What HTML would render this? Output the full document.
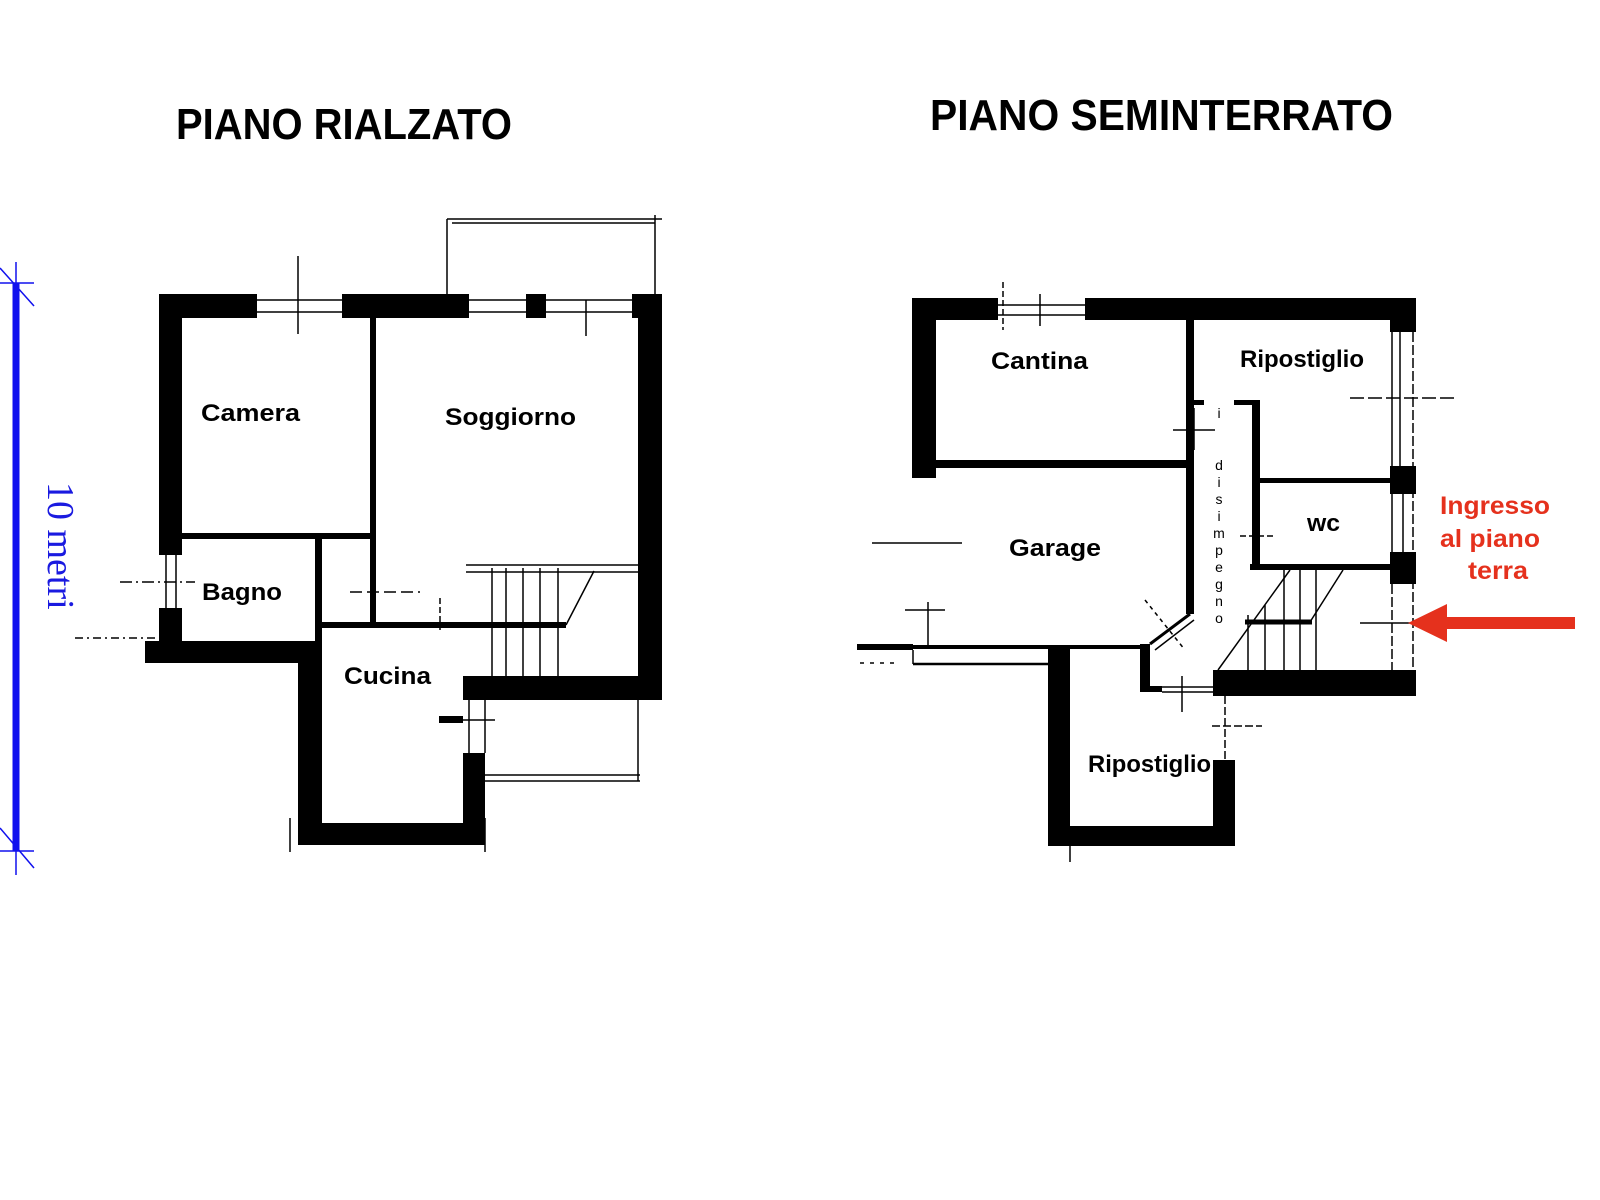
<!DOCTYPE html>
<html><head><meta charset="utf-8"><style>
html,body{margin:0;padding:0;background:#fff;}
svg{display:block}
.t{font-family:"Liberation Sans",sans-serif;font-weight:bold;fill:#000}
.r{font-family:"Liberation Sans",sans-serif;font-weight:bold;fill:#e5311d}
</style></head><body>
<svg width="1600" height="1200" viewBox="0 0 1600 1200" xmlns="http://www.w3.org/2000/svg">
<rect width="1600" height="1200" fill="#fff"/>
<!-- titles -->
<text class="t" x="176" y="139" font-size="44" textLength="336" lengthAdjust="spacingAndGlyphs">PIANO RIALZATO</text>
<text class="t" x="930" y="130" font-size="44" textLength="463" lengthAdjust="spacingAndGlyphs">PIANO SEMINTERRATO</text>

<!-- scale bar -->
<g stroke="#1010ee" fill="none">
<line x1="16" y1="283" x2="16" y2="851" stroke-width="7"/>
<line x1="0" y1="283" x2="34" y2="283" stroke-width="1.5"/>
<line x1="0" y1="268" x2="34" y2="306" stroke-width="1.5"/>
<line x1="16" y1="262" x2="16" y2="290" stroke-width="1.5"/>
<line x1="0" y1="851" x2="34" y2="851" stroke-width="1.5"/>
<line x1="0" y1="828" x2="34" y2="868" stroke-width="1.5"/>
<line x1="16" y1="845" x2="16" y2="875" stroke-width="1.5"/>
</g>
<text x="48" y="482" font-family="Liberation Serif,serif" font-size="38" fill="#1a1ae0" transform="rotate(90 48 482)">10 metri</text>

<!-- LEFT PLAN -->
<g fill="#000">
<rect x="159" y="294" width="98" height="24"/>
<rect x="342" y="294" width="127" height="24"/>
<rect x="526" y="294" width="20" height="24"/>
<rect x="632" y="294" width="30" height="24"/>
<rect x="159" y="294" width="23" height="261"/>
<rect x="159" y="608" width="23" height="55"/>
<rect x="638" y="294" width="24" height="406"/>
<rect x="145" y="641" width="175" height="22"/>
<rect x="298" y="641" width="24" height="204"/>
<rect x="298" y="823" width="187" height="22"/>
<rect x="463" y="753" width="22" height="92"/>
<rect x="463" y="676" width="199" height="24"/>
<rect x="439" y="716" width="24" height="7"/>
<rect x="370" y="318" width="6" height="305"/>
<rect x="182" y="533" width="191" height="6"/>
<rect x="315" y="533" width="7" height="108"/>
<rect x="322" y="622" width="244" height="6"/>
</g>
<g stroke="#000" fill="none" stroke-width="1.5">
<line x1="257" y1="300" x2="342" y2="300"/><line x1="257" y1="312" x2="342" y2="312"/>
<line x1="298" y1="256" x2="298" y2="334"/>
<line x1="469" y1="300" x2="632" y2="300"/><line x1="469" y1="312" x2="632" y2="312"/>
<line x1="586" y1="300" x2="586" y2="336"/>
<line x1="447" y1="219" x2="662" y2="219"/><line x1="452" y1="223" x2="655" y2="223"/>
<line x1="447" y1="219" x2="447" y2="294"/><line x1="655" y1="215" x2="655" y2="294"/>
<line x1="485" y1="775" x2="640" y2="775"/><line x1="485" y1="781" x2="640" y2="781"/>
<line x1="638" y1="700" x2="638" y2="781"/>
<line x1="469" y1="700" x2="469" y2="753"/><line x1="485" y1="700" x2="485" y2="753"/>
<line x1="455" y1="720" x2="495" y2="720"/>
<line x1="166" y1="555" x2="166" y2="608"/><line x1="176" y1="555" x2="176" y2="608"/>
<line x1="120" y1="582" x2="195" y2="582" stroke-dasharray="12 4 2 4"/>
<line x1="75" y1="638" x2="159" y2="638" stroke-dasharray="8 4 2 4"/>
<line x1="317" y1="539" x2="317" y2="615" stroke-dasharray="10 3"/>
<line x1="350" y1="592" x2="420" y2="592" stroke-dasharray="12 5"/>
<line x1="373" y1="583" x2="373" y2="620"/>
<line x1="466" y1="565" x2="638" y2="565"/><line x1="466" y1="572" x2="638" y2="572"/>
<line x1="492" y1="568" x2="492" y2="676"/><line x1="506" y1="568" x2="506" y2="676"/>
<line x1="523" y1="568" x2="523" y2="676"/><line x1="540" y1="568" x2="540" y2="676"/>
<line x1="558" y1="568" x2="558" y2="676"/>
<line x1="594" y1="571" x2="566" y2="625"/>
<line x1="440" y1="598" x2="440" y2="630" stroke-dasharray="6 3"/>
<line x1="290" y1="818" x2="290" y2="852"/><line x1="485" y1="818" x2="485" y2="852"/>
</g>
<text class="t" x="201" y="421" font-size="24" textLength="99" lengthAdjust="spacingAndGlyphs">Camera</text>
<text class="t" x="445" y="425" font-size="24" textLength="131" lengthAdjust="spacingAndGlyphs">Soggiorno</text>
<text class="t" x="202" y="600" font-size="24" textLength="80" lengthAdjust="spacingAndGlyphs">Bagno</text>
<text class="t" x="344" y="684" font-size="24" textLength="87" lengthAdjust="spacingAndGlyphs">Cucina</text>

<!-- RIGHT PLAN -->
<g fill="#000">
<rect x="912" y="298" width="86" height="22"/>
<rect x="1085" y="298" width="331" height="22"/>
<rect x="912" y="298" width="24" height="180"/>
<rect x="936" y="460" width="253" height="8"/>
<rect x="1186" y="320" width="8" height="294"/>
<rect x="1390" y="298" width="26" height="34"/>
<rect x="1390" y="466" width="26" height="28"/>
<rect x="1390" y="552" width="26" height="32"/>
<rect x="1213" y="670" width="203" height="26"/>
<rect x="1252" y="402" width="8" height="168"/>
<rect x="1194" y="400" width="10" height="5"/>
<rect x="1234" y="400" width="26" height="5"/>
<rect x="1260" y="478" width="130" height="5"/>
<rect x="1250" y="564" width="140" height="6"/>
<rect x="857" y="644" width="56" height="6"/>
<rect x="913" y="645" width="235" height="4"/>
<rect x="1048" y="648" width="22" height="198"/>
<rect x="1048" y="826" width="187" height="20"/>
<rect x="1213" y="760" width="22" height="86"/>
<rect x="1140" y="644" width="10" height="48"/>
<rect x="1140" y="686" width="22" height="6"/>
</g>
<g stroke="#000" fill="none" stroke-width="1.5">
<line x1="998" y1="305" x2="1085" y2="305"/><line x1="998" y1="315" x2="1085" y2="315"/>
<line x1="1040" y1="294" x2="1040" y2="326"/>
<line x1="1003" y1="282" x2="1003" y2="330" stroke-dasharray="6 3"/>
<line x1="1392" y1="332" x2="1392" y2="466"/><line x1="1400" y1="332" x2="1400" y2="466"/>
<line x1="1413" y1="332" x2="1413" y2="672" stroke-dasharray="10 3"/>
<line x1="1350" y1="398" x2="1458" y2="398" stroke-dasharray="14 4"/>
<line x1="1392" y1="494" x2="1392" y2="552"/><line x1="1403" y1="494" x2="1403" y2="552"/>
<line x1="1392" y1="584" x2="1392" y2="670" stroke-dasharray="10 3"/>
<line x1="1360" y1="623" x2="1412" y2="623"/>
<line x1="1189" y1="408" x2="1189" y2="450"/><line x1="1194" y1="408" x2="1194" y2="450"/>
<line x1="1173" y1="430" x2="1215" y2="430"/>
<line x1="1258" y1="520" x2="1258" y2="564"/>
<line x1="1240" y1="536" x2="1275" y2="536" stroke-dasharray="6 3"/>
<line x1="1150" y1="644" x2="1190" y2="614" stroke-width="3"/>
<line x1="1155" y1="650" x2="1194" y2="620"/>
<line x1="1145" y1="600" x2="1185" y2="650" stroke-dasharray="4 4"/>
<line x1="1290" y1="570" x2="1218" y2="670"/>
<line x1="1343" y1="570" x2="1310" y2="622"/>
<line x1="1245" y1="622" x2="1312" y2="622" stroke-width="5"/>
<line x1="1284" y1="570" x2="1284" y2="670"/><line x1="1300" y1="570" x2="1300" y2="670"/>
<line x1="1316" y1="570" x2="1316" y2="670"/>
<line x1="1248" y1="615" x2="1248" y2="670"/><line x1="1265" y1="605" x2="1265" y2="670"/>
<line x1="872" y1="543" x2="962" y2="543"/>
<line x1="905" y1="610" x2="945" y2="610"/><line x1="928" y1="602" x2="928" y2="646"/>
<line x1="913" y1="650" x2="913" y2="664"/><line x1="913" y1="664" x2="1048" y2="664" stroke-width="2.5"/>
<line x1="860" y1="663" x2="900" y2="663" stroke-dasharray="4 6"/>
<line x1="1162" y1="687" x2="1213" y2="687"/><line x1="1162" y1="692" x2="1213" y2="692"/>
<line x1="1182" y1="676" x2="1182" y2="712"/>
<line x1="1225" y1="696" x2="1225" y2="760" stroke-dasharray="8 3"/>
<line x1="1212" y1="726" x2="1262" y2="726" stroke-dasharray="8 3"/>
<line x1="1070" y1="846" x2="1070" y2="862"/>
</g>
<text class="t" x="991" y="369" font-size="24" textLength="97" lengthAdjust="spacingAndGlyphs">Cantina</text>
<text class="t" x="1240" y="367" font-size="24" textLength="124" lengthAdjust="spacingAndGlyphs">Ripostiglio</text>
<text class="t" x="1009" y="556" font-size="24" textLength="92" lengthAdjust="spacingAndGlyphs">Garage</text>
<text class="t" x="1307" y="531" font-size="24" textLength="33" lengthAdjust="spacingAndGlyphs">wc</text>
<text class="t" x="1088" y="772" font-size="24" textLength="123" lengthAdjust="spacingAndGlyphs">Ripostiglio</text>
<g font-family="Liberation Sans,sans-serif" font-size="14" fill="#000" text-anchor="middle">
<text x="1219" y="418">i</text>
<text x="1219" y="470">d</text><text x="1219" y="487">i</text><text x="1219" y="504">s</text>
<text x="1219" y="521">i</text><text x="1219" y="538">m</text><text x="1219" y="555">p</text>
<text x="1219" y="572">e</text><text x="1219" y="589">g</text><text x="1219" y="606">n</text>
<text x="1219" y="623">o</text>
</g>
<text class="r" x="1440" y="514" font-size="25" textLength="110" lengthAdjust="spacingAndGlyphs">Ingresso</text>
<text class="r" x="1440" y="547" font-size="25" textLength="100" lengthAdjust="spacingAndGlyphs">al piano</text>
<text class="r" x="1468" y="579" font-size="25" textLength="60" lengthAdjust="spacingAndGlyphs">terra</text>
<polygon points="1408,623 1447,604 1447,617 1575,617 1575,629 1447,629 1447,642" fill="#e5311d"/>
</svg>
</body></html>
